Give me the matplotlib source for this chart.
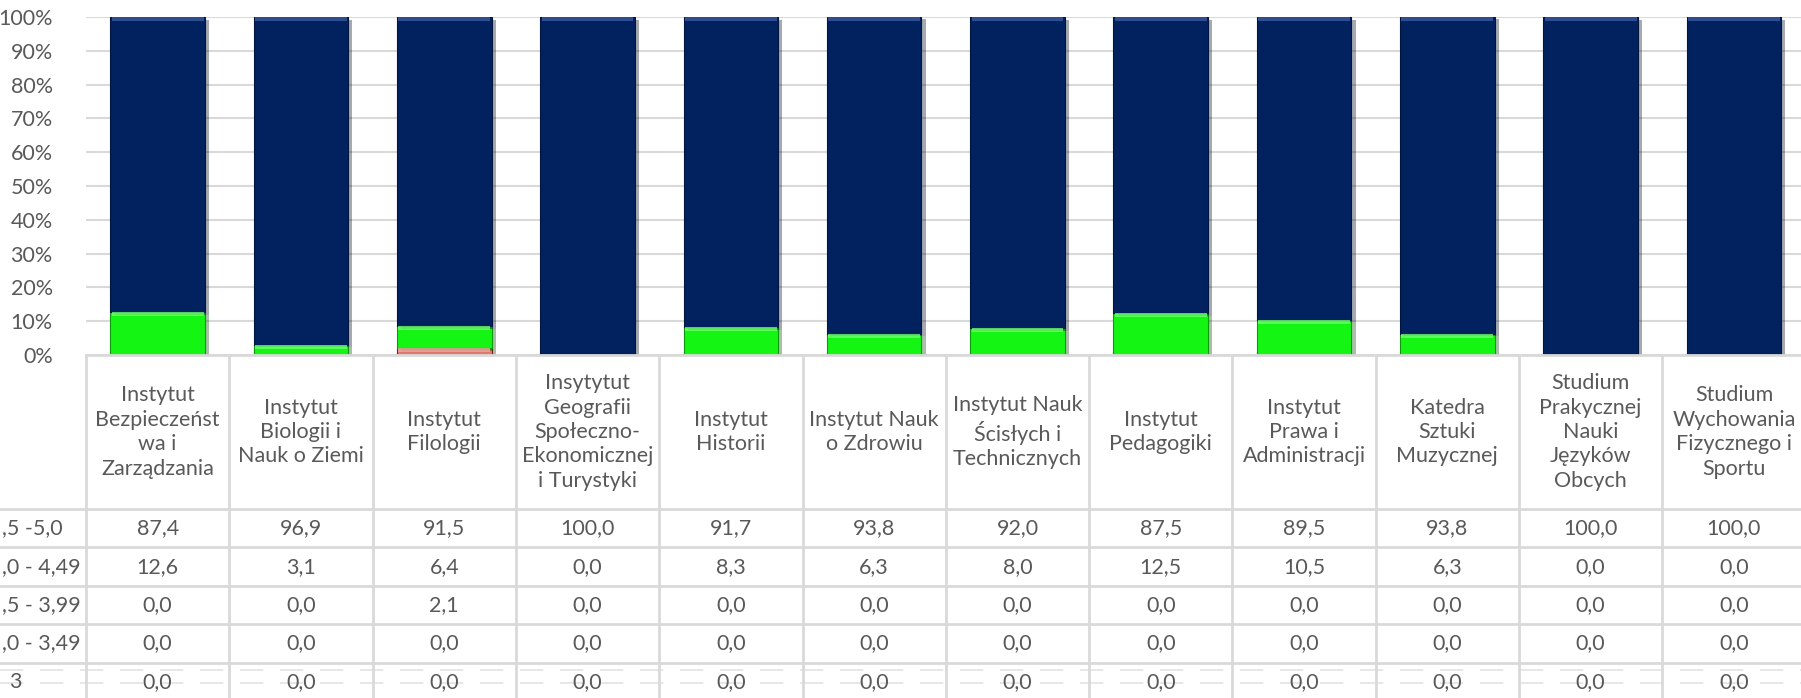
import matplotlib as mpl
import matplotlib.pyplot as plt
import matplotlib.patheffects as pe

mpl.rcParams['font.family'] = ['Lato', 'DejaVu Sans']

# dane
kategorie = ['Instytut\nBezpieczeńst\nwa i\nZarządzania',
             'Instytut\nBiologii i\nNauk o Ziemi',
             'Instytut\nFilologii',
             'Insytytut\nGeografii\nSpołeczno-\nEkonomicznej\ni Turystyki',
             'Instytut\nHistorii',
             'Instytut Nauk\no Zdrowiu',
             'Instytut Nauk\nŚcisłych i\nTechnicznych',
             'Instytut\nPedagogiki',
             'Instytut\nPrawa i\nAdministracji',
             'Katedra\nSztuki\nMuzycznej',
             'Studium\nPrakycznej\nNauki\nJęzyków\nObcych',
             'Studium\nWychowania\nFizycznego i\nSportu']

# etykiety wierszy - widoczna czesc (lewa krawedz obcieta w oryginale)
serie = [',5 -5,0', ',0 - 4,49', ',5 - 3,99', ',0 - 3,49', '3']
s_45_50 = [87.4, 96.9, 91.5, 100.0, 91.7, 93.8, 92.0, 87.5, 89.5, 93.8, 100.0, 100.0]
s_40_449 = [12.6, 3.1, 6.4, 0.0, 8.3, 6.3, 8.0, 12.5, 10.5, 6.3, 0.0, 0.0]
s_35_399 = [0.0, 0.0, 2.1, 0.0, 0.0, 0.0, 0.0, 0.0, 0.0, 0.0, 0.0, 0.0]
s_30_349 = [0.0, 0.0, 0.0, 0.0, 0.0, 0.0, 0.0, 0.0, 0.0, 0.0, 0.0, 0.0]
s_pon_3 = [0.0, 0.0, 0.0, 0.0, 0.0, 0.0, 0.0, 0.0, 0.0, 0.0, 0.0, 0.0]
wartosci = [s_45_50, s_40_449, s_35_399, s_30_349, s_pon_3]

kolory = ['#02215F', '#14F514', '#E07870', '#7F7F7F', '#A5A5A5']
jasne = ['#3A5A9E', '#6CFF6C', '#F0A8A0', '#B0B0B0', '#C8C8C8']
krawedz = ['#01163F', '#0A9A0A', '#8B1A1A', '#555555', '#777777']

szary = '#595959'
linia = '#D9D9D9'
W, H = 1801, 698
fig = plt.figure(figsize=(W / 100, H / 100), dpi=100)

# uklad w pikselach
x0, colw = 86, 143.3
y100, y0 = 17, 355
hdr_bot, rowh = 509, 38.4
n = len(kategorie)

ax = fig.add_axes([x0 / W, 1 - y0 / H, n * colw / W, (y0 - y100) / H])
x = list(range(n))
dol = [0.0] * n
# stos od najnizszej oceny
for k in range(len(serie) - 1, -1, -1):
    v = wartosci[k]
    bars = ax.bar(x, v, bottom=dol, width=0.66, color=kolory[k],
                  edgecolor=krawedz[k], linewidth=0.8, zorder=3)
    for b in bars:
        if b.get_height() > 0:
            b.set_path_effects([pe.SimplePatchShadow(offset=(3, -2), alpha=0.35), pe.Normal()])
    # jasniejszy pasek u gory (efekt wypuklosci)
    top = [d + h for d, h in zip(dol, v)]
    hl = [min(1.2, h) if h > 0 else 0 for h in v]
    ax.bar(x, hl, bottom=[t - h for t, h in zip(top, hl)], width=0.64,
           color=jasne[k], linewidth=0, zorder=4, alpha=0.8)
    dol = top

ax.set_xlim(-0.5, n - 0.5)
ax.set_ylim(0, 100)
ax.set_yticks(range(0, 101, 10))
ax.set_yticklabels([f'{t}%' for t in range(0, 101, 10)])
ax.tick_params(axis='y', length=0, pad=24, labelsize=15.5, labelcolor=szary)
ax.tick_params(axis='x', length=0, labelbottom=False)
ax.grid(axis='y', color=linia, linewidth=1.5, zorder=0)
for s in ax.spines.values():
    s.set_visible(False)

# tabela danych
tab = fig.add_axes([0, 0, 1, 1])
tab.set_xlim(0, W)
tab.set_ylim(H, 0)
tab.axis('off')

# slady drugiego wykresu przeswitujace na dole
for yy in (670, 683):
    tab.plot([0, W], [yy, yy], color='#E3E3E3', lw=1.2, ls=(0, (14, 10)), zorder=0)

xr = x0 + n * colw
tab.plot([x0, xr], [y0, y0], color=linia, lw=2)
for i in range(n + 1):
    xi = x0 + i * colw
    tab.plot([xi, xi], [y0, H + 5], color=linia, lw=2)
for r in range(len(serie)):
    yr = hdr_bot + r * rowh
    tab.plot([0, xr], [yr, yr], color=linia, lw=2)

for i, kat in enumerate(kategorie):
    tab.text(x0 + (i + 0.5) * colw, (y0 + hdr_bot) / 2, kat, ha='center', va='center',
             fontsize=15.5, color=szary, linespacing=1.28)

for r, nazwa in enumerate(serie):
    yc = hdr_bot + (r + 0.5) * rowh
    xl = 9 if nazwa == '3' else 2
    tab.text(xl, yc, nazwa, ha='left', va='center', fontsize=15.5, color=szary)
    for i in range(n):
        tab.text(x0 + (i + 0.5) * colw, yc, f'{wartosci[r][i]:.1f}'.replace('.', ','),
                 ha='center', va='center', fontsize=15.5, color=szary)

fig.savefig('out.png', dpi=100)
